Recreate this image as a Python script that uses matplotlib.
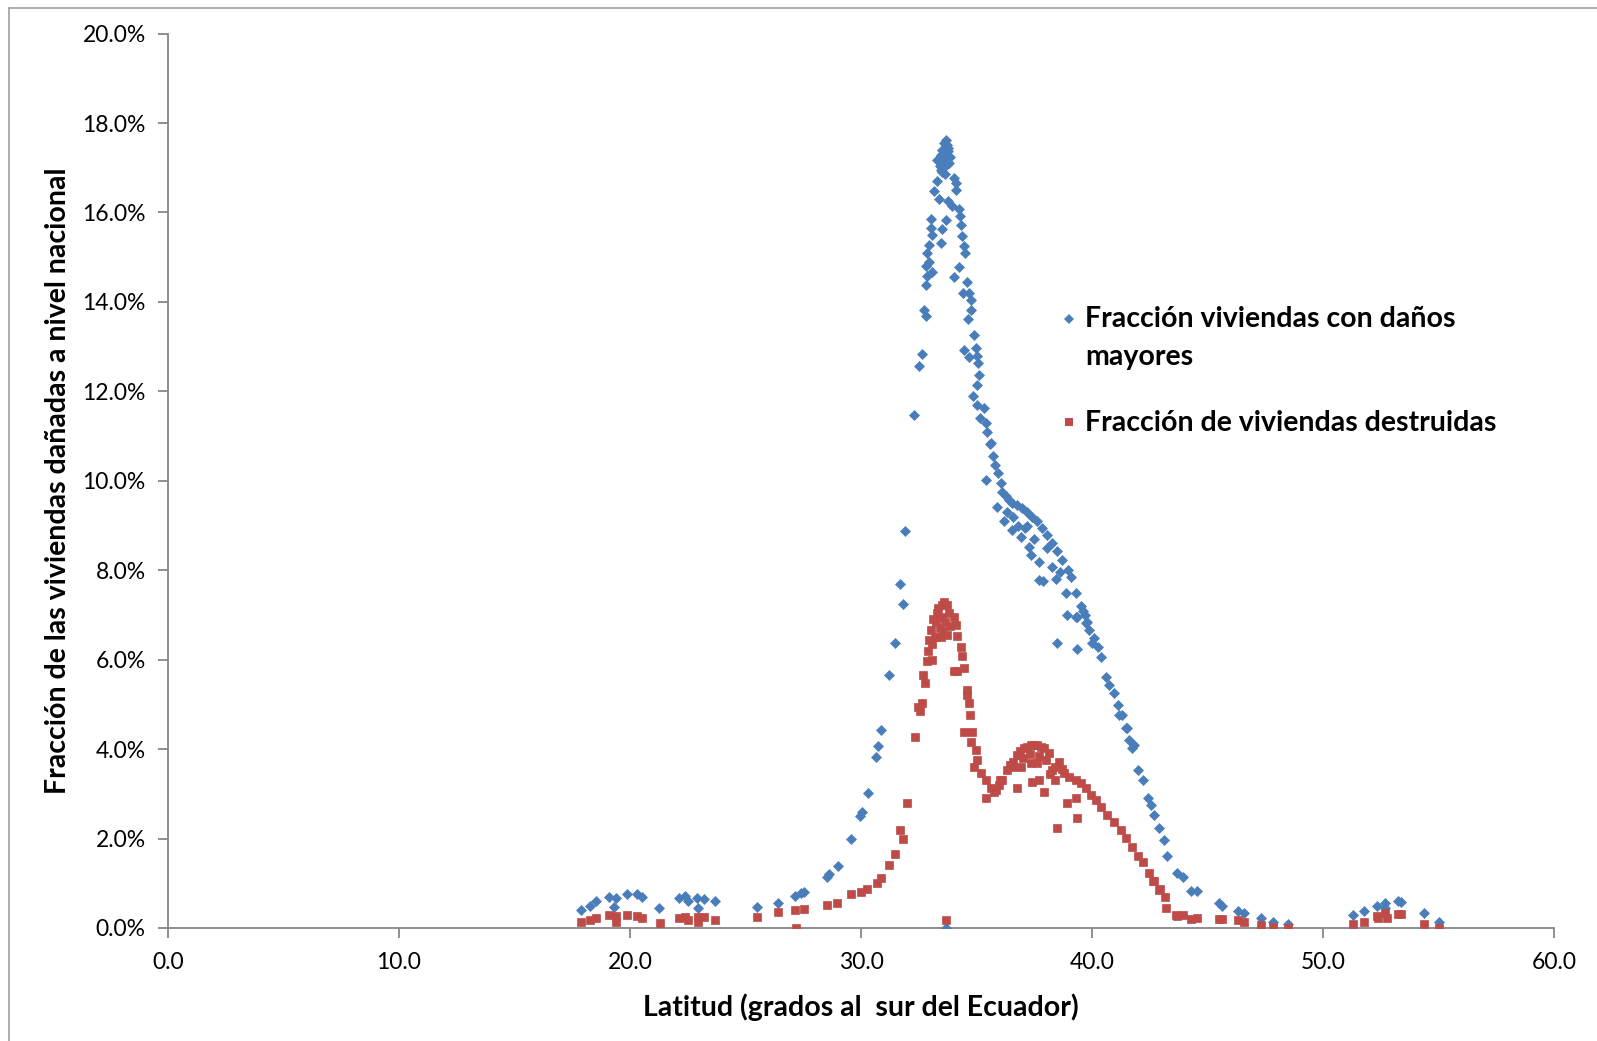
import matplotlib
matplotlib.use("Agg")
import matplotlib.pyplot as plt
from matplotlib.ticker import FuncFormatter, MultipleLocator
from matplotlib.lines import Line2D

plt.rcParams['font.family'] = ['Lato', 'DejaVu Sans']

# ---------------- data (latitude in degrees S, value in %) ----------------
blue_lat = [
    17.88, 18.25, 18.51, 19.08, 19.41, 19.32, 19.86, 20.31, 20.51, 21.27, 22.11, 22.40, 22.52, 22.91,
    23.20, 22.95, 23.66, 25.48, 26.40, 27.14, 27.42, 27.53, 28.51, 28.61, 28.99, 29.56, 29.95, 30.06,
    30.29, 30.66, 30.75, 30.86, 31.23, 31.46, 31.67, 31.83, 31.89, 32.30, 32.51, 32.62, 32.73, 32.80,
    32.80, 32.86, 33.09, 32.80, 32.94, 32.86, 32.94, 33.09, 33.45, 33.52, 33.67, 33.05, 33.05, 33.38,
    33.16, 33.30, 33.76, 33.96, 34.03, 34.10, 34.10, 34.24, 34.28, 34.32, 34.38, 34.46, 34.49, 34.24,
    34.03, 34.57, 34.43, 34.68, 34.75, 34.78, 34.63, 34.89, 34.96, 34.46, 34.68, 35.04, 35.07, 35.11,
    35.04, 34.86, 35.04, 35.33, 35.16, 35.40, 35.47, 35.59, 35.62, 35.72, 35.81, 35.91, 35.40, 36.05,
    36.12, 36.26, 36.41, 36.55, 36.77, 36.99, 37.20, 37.42, 37.64, 37.85, 38.07, 38.29, 38.50, 38.72,
    38.94, 39.08, 39.30, 39.51, 39.69, 39.80, 39.87, 40.09, 40.24, 40.38, 40.60, 40.74, 40.96, 41.13,
    41.18, 41.32, 41.46, 41.51, 41.61, 41.75, 41.80, 41.97, 42.21, 42.43, 42.55, 42.70, 42.91, 43.13,
    43.23, 43.70, 43.92, 44.28, 44.55, 45.48, 45.63, 46.33, 46.59, 47.31, 47.85, 48.47, 51.31, 51.79,
    52.33, 52.70, 52.70, 53.24, 53.36, 54.36, 55.00, 33.66,
    35.88, 36.17, 36.55, 36.91, 37.27, 37.38, 37.71, 37.71, 37.90, 38.29, 38.44, 38.86, 38.91, 39.30,
    38.47, 39.37, 36.60, 37.10, 37.50, 38.05, 38.60, 36.30, 36.80, 37.20, 39.34, 39.59, 39.73, 40.02,
    33.67, 33.71, 33.52, 33.76, 33.45, 33.67, 33.30, 33.85, 33.52, 33.62, 33.45, 33.52, 33.60, 33.75,
    33.58, 33.70, 33.40, 33.80, 33.55, 33.65, 33.48, 33.62,
]
blue_frac = [
    0.40, 0.49, 0.60, 0.69, 0.66, 0.46, 0.75, 0.75, 0.69, 0.44, 0.68, 0.72, 0.60, 0.66,
    0.64, 0.44, 0.60, 0.46, 0.57, 0.72, 0.78, 0.80, 1.15, 1.21, 1.39, 1.98, 2.51, 2.59,
    3.01, 3.83, 4.07, 4.43, 5.66, 6.38, 7.69, 7.24, 8.88, 11.47, 12.56, 12.84, 13.83, 13.68,
    14.38, 14.57, 14.68, 14.80, 14.90, 15.09, 15.28, 15.50, 15.32, 15.62, 15.84, 15.65, 15.85, 16.30,
    16.47, 16.70, 16.25, 16.14, 16.77, 16.66, 16.50, 16.07, 15.92, 15.73, 15.47, 15.24, 15.09, 14.79,
    14.56, 14.44, 14.20, 14.20, 14.05, 13.83, 13.62, 13.27, 12.97, 12.93, 12.77, 12.78, 12.63, 12.37,
    12.15, 11.89, 11.70, 11.63, 11.40, 11.29, 11.10, 10.83, 10.84, 10.56, 10.36, 10.17, 10.01, 9.95,
    9.76, 9.65, 9.57, 9.50, 9.46, 9.39, 9.31, 9.20, 9.09, 8.94, 8.79, 8.61, 8.42, 8.23,
    8.01, 7.86, 7.49, 7.19, 7.00, 6.85, 6.67, 6.48, 6.29, 6.07, 5.62, 5.44, 5.25, 4.99,
    4.77, 4.77, 4.47, 4.47, 4.21, 4.02, 4.10, 3.53, 3.31, 2.90, 2.75, 2.53, 2.23, 1.97,
    1.62, 1.22, 1.15, 0.83, 0.83, 0.55, 0.50, 0.37, 0.33, 0.22, 0.14, 0.10, 0.29, 0.37,
    0.49, 0.57, 0.45, 0.61, 0.58, 0.33, 0.14, 0.00,
    9.41, 9.09, 8.90, 8.75, 8.53, 8.34, 8.19, 7.79, 7.76, 8.08, 7.80, 7.49, 7.00, 6.96,
    6.37, 6.24, 9.20, 8.95, 8.70, 8.50, 7.97, 9.30, 9.00, 9.00, 6.96, 7.08, 6.81, 6.37,
    17.61, 17.52, 17.40, 17.37, 17.29, 17.25, 17.18, 17.24, 17.11, 17.03, 16.96, 16.90, 17.55, 17.45,
    17.30, 17.15, 17.05, 17.10, 17.00, 16.85, 17.20, 17.45,
]

red_lat = [
    17.88, 18.25, 18.51, 19.08, 19.38, 19.38, 19.86, 20.31, 20.51, 21.28, 22.11, 22.40, 22.53, 22.95,
    22.95, 23.20, 23.66, 25.48, 26.40, 27.14, 27.53, 27.18, 28.54, 28.97, 29.55, 29.98, 30.27, 30.68,
    30.88, 31.23, 31.46, 31.83, 31.67, 31.98, 32.32, 32.54, 32.48, 32.63, 32.77, 32.68, 32.84, 32.90,
    32.94, 33.05, 33.13, 33.31, 33.52, 33.74, 33.80, 34.03, 34.10, 33.74, 33.45, 33.40, 33.09, 33.07,
    34.16, 34.32, 34.37, 34.46, 34.03, 34.17, 34.60, 34.60, 34.67, 34.70, 34.46, 34.82, 34.75, 34.97,
    35.04, 34.89, 35.18, 35.40, 35.62, 35.83, 35.40, 36.00, 35.76, 35.98, 36.12, 36.34, 36.56, 36.77,
    37.06, 37.35, 37.64, 37.93, 38.14, 36.60, 36.92, 37.35, 37.60, 38.29, 38.58, 38.79, 39.01, 39.30,
    39.51, 39.73, 39.95, 40.16, 40.38, 40.67, 40.96, 41.25, 41.46, 41.75, 41.97, 42.19, 42.48, 42.62,
    42.69, 42.91, 42.95, 43.17, 43.20, 43.63, 43.67, 43.92, 44.28, 44.55, 45.48, 45.63, 46.33, 46.59,
    47.31, 47.85, 48.47, 51.31, 51.79, 52.33, 52.40, 52.70, 52.76, 53.24, 53.36, 54.36, 55.00, 33.66,
    37.42, 37.70, 37.93, 38.91, 39.37, 38.50, 36.75, 38.40, 39.30,
    33.35, 33.60, 33.50, 33.65, 33.25, 33.85, 33.55, 33.20,
    36.90, 37.20, 37.50, 37.80, 37.00, 37.30, 37.70, 38.00, 36.45, 38.40, 38.70, 38.20,
]
red_frac = [
    0.14, 0.18, 0.22, 0.28, 0.26, 0.13, 0.30, 0.27, 0.23, 0.12, 0.22, 0.25, 0.19, 0.25,
    0.14, 0.25, 0.19, 0.25, 0.36, 0.41, 0.43, 0.00, 0.51, 0.57, 0.76, 0.81, 0.87, 1.01,
    1.11, 1.40, 1.66, 2.00, 2.19, 2.80, 4.27, 4.86, 4.95, 5.04, 5.47, 5.66, 5.96, 6.20,
    6.44, 6.67, 6.91, 7.04, 7.23, 7.23, 7.04, 6.96, 6.78, 6.55, 6.50, 6.70, 6.00, 6.35,
    6.52, 6.29, 6.09, 5.81, 5.74, 5.74, 5.32, 5.20, 5.03, 4.77, 4.39, 4.39, 4.17, 3.98,
    3.76, 3.61, 3.46, 3.31, 3.13, 3.09, 2.90, 3.30, 3.05, 3.20, 3.31, 3.53, 3.72, 3.87,
    4.02, 4.09, 4.09, 4.02, 3.91, 3.60, 3.61, 3.69, 3.69, 3.53, 3.72, 3.46, 3.38, 3.31,
    3.24, 3.12, 2.98, 2.86, 2.71, 2.53, 2.38, 2.19, 2.01, 1.82, 1.60, 1.48, 1.22, 1.04,
    1.04, 0.85, 0.87, 0.70, 0.44, 0.29, 0.27, 0.30, 0.20, 0.22, 0.21, 0.20, 0.18, 0.14,
    0.07, 0.02, 0.01, 0.09, 0.13, 0.27, 0.22, 0.34, 0.22, 0.31, 0.31, 0.10, 0.00, 0.18,
    3.27, 3.30, 3.05, 2.80, 2.45, 2.23, 3.12, 3.30, 2.90,
    7.15, 7.30, 6.95, 6.85, 6.85, 6.75, 6.65, 6.50,
    3.95, 4.05, 4.10, 4.05, 3.80, 3.90, 3.85, 3.75, 3.65, 3.60, 3.55, 3.45,
]

blue_label_lines = ["Fracción viviendas con daños", "mayores"]
red_label = "Fracción de viviendas destruidas"
x_label = "Latitud (grados al  sur del Ecuador)"
y_label = "Fracción de las viviendas dañadas a nivel nacional"

BLUE = "#4A7EBB"
RED = "#BE4B48"
AXC = "#868686"

W, H = 1597, 1041
fig = plt.figure(figsize=(W / 100, H / 100), dpi=100)
ax = fig.add_axes([168 / W, 1 - 928 / H, (1554 - 168) / W, (928 - 33.6) / H])

ax.plot(blue_lat, blue_frac, linestyle="none", marker="D", markersize=5.0,
        color=BLUE, markeredgecolor=BLUE, markeredgewidth=0.5, zorder=3)
ax.plot(red_lat, red_frac, linestyle="none", marker="s", markersize=5.6,
        color=RED, markeredgecolor=RED, markeredgewidth=0.5, zorder=3)

ax.set_xlim(0, 60)
ax.set_ylim(0, 20)
ax.xaxis.set_major_locator(MultipleLocator(10))
ax.yaxis.set_major_locator(MultipleLocator(2))
ax.xaxis.set_major_formatter(FuncFormatter(lambda v, p: f"{v:.1f}"))
ax.yaxis.set_major_formatter(FuncFormatter(lambda v, p: f"{v:.1f}%"))

for s in ["top", "right"]:
    ax.spines[s].set_visible(False)
for s in ["left", "bottom"]:
    ax.spines[s].set_color(AXC)
    ax.spines[s].set_linewidth(1.3)
ax.tick_params(axis="both", direction="out", length=7, width=1.3, color=AXC,
               labelsize=16.5, labelcolor="black")
ax.tick_params(axis="x", pad=10)
ax.tick_params(axis="y", pad=9)

ax.set_xlabel(x_label, fontsize=20.5, fontweight="bold")
ax.set_ylabel(y_label, fontsize=20.5, fontweight="bold")
ax.xaxis.set_label_coords(0.5, (928 - 993) / 894.4)
ax.yaxis.set_label_coords((71 - 168) / 1386, 0.5)

# ---- legend (drawn manually, marker aligned with first text line) ----
leg_fs = 20.5
def fy(py):
    return 1 - py / H
fig.add_artist(Line2D([1069 / W], [fy(319)], linestyle="none", marker="D", markersize=4.6,
                      color=BLUE, markeredgewidth=0, transform=fig.transFigure))
fig.text(1085 / W, fy(319), blue_label_lines[0], fontsize=leg_fs, fontweight="bold",
         ha="left", va="center")
fig.text(1085 / W, fy(357), blue_label_lines[1], fontsize=leg_fs, fontweight="bold",
         ha="left", va="center")
fig.add_artist(Line2D([1069 / W], [fy(422)], linestyle="none", marker="s", markersize=5.4,
                      color=RED, markeredgewidth=0, transform=fig.transFigure))
fig.text(1085 / W, fy(423), red_label, fontsize=leg_fs, fontweight="bold",
         ha="left", va="center")

# outer chart border (top and left visible)
fig.add_artist(Line2D([9 / W, 9 / W], [0, fy(8)], color="#A0A0A0", linewidth=1.2,
                      transform=fig.transFigure))
fig.add_artist(Line2D([9 / W, 1], [fy(8), fy(8)], color="#A0A0A0", linewidth=1.2,
                      transform=fig.transFigure))

fig.savefig("out.png", dpi=100)
